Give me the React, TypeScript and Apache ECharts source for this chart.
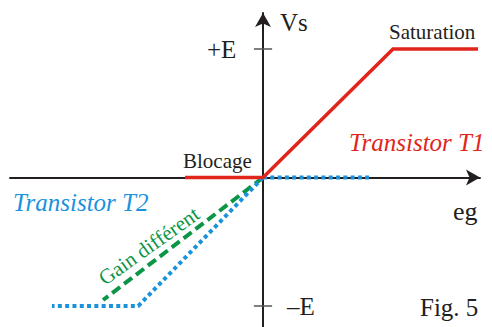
import React, { useEffect, useRef } from "react";
import * as echarts from "echarts";

// Transfer characteristic (eg in arbitrary units, Vs in units of E)
const t1Curve: number[][] = [[-0.6, 0], [0, 0], [1, 1], [1.654, 1]];
const t2Flat: number[][] = [[0, 0], [0.815, 0]];
const t2Curve: number[][] = [[0, 0], [-0.96, -1], [-1.623, -1]];
const gainCurve: number[][] = [[0, 0], [-1.23, -0.953]];
const tickLevels: number[] = [1, -1];
const tickHalf = 0.07;

const X_MIN = -1.946;
const X_MAX = 1.669;
const Y_MIN = -1.163;
const Y_MAX = 1.28;

const BLACK = "#231f20";
const RED = "#e1251b";
const BLUE = "#1a92dc";
const GREEN = "#0a9646";
const SERIF = "Liberation Serif";

export default function App() {
  const ref = useRef<HTMLDivElement>(null);
  useEffect(() => {
    if (!ref.current) return;
    const chart = echarts.init(ref.current, undefined, { renderer: "svg" });
    const txt = (
      text: string,
      x: number,
      y: number,
      size: number,
      color: string,
      align: string,
      italic = false,
      rotation = 0
    ) => ({
      type: "text",
      x,
      y,
      rotation,
      style: {
        text,
        fill: color,
        fontFamily: SERIF,
        fontSize: size,
        fontStyle: italic ? "italic" : "normal",
        textAlign: align,
        textVerticalAlign: "middle",
      },
    });
    chart.setOption({
      animation: false,
      textStyle: { fontFamily: SERIF },
      grid: { left: 10, top: 13, width: 470, height: 314, containLabel: false },
      xAxis: {
        type: "value",
        min: X_MIN,
        max: X_MAX,
        axisLine: {
          onZero: true,
          symbol: ["none", "arrow"],
          symbolSize: [12, 14],
          lineStyle: { color: BLACK, width: 2 },
        },
        axisTick: { show: false },
        axisLabel: { show: false },
        splitLine: { show: false },
      },
      yAxis: {
        type: "value",
        min: Y_MIN,
        max: Y_MAX,
        axisLine: {
          onZero: true,
          symbol: ["none", "arrow"],
          symbolSize: [12, 14],
          lineStyle: { color: BLACK, width: 2 },
        },
        axisTick: { show: false },
        axisLabel: { show: false },
        splitLine: { show: false },
      },
      series: [
        ...tickLevels.map((v) => ({
          type: "line",
          data: [[-tickHalf, v], [tickHalf, v]],
          symbol: "none",
          lineStyle: { color: "#555", width: 1.5 },
          z: 1,
        })),
        {
          type: "line",
          data: gainCurve,
          symbol: "none",
          lineStyle: { color: GREEN, width: 4, type: [10, 5] },
          z: 2,
        },
        {
          type: "line",
          data: t2Curve,
          symbol: "none",
          lineStyle: { color: BLUE, width: 4, type: [4, 3.3] },
          z: 3,
        },
        {
          type: "line",
          data: t2Flat,
          symbol: "none",
          lineStyle: { color: BLUE, width: 4, type: [4, 3.3] },
          z: 3,
        },
        {
          type: "line",
          data: t1Curve,
          symbol: "none",
          lineStyle: { color: RED, width: 3.5, cap: "butt", join: "miter" },
          z: 4,
        },
      ],
      graphic: [
        txt("Vs", 280, 22, 25, BLACK, "left"),
        txt("+E", 207, 49, 25, BLACK, "left"),
        txt("\u2013E", 287, 306, 25, BLACK, "left"),
        txt("Saturation", 389, 32, 21, BLACK, "left"),
        txt("Blocage", 183, 161, 21, BLACK, "left"),
        txt("Transistor T1", 349, 142, 25, RED, "left", true),
        txt("Transistor T2", 13, 202, 25, BLUE, "left", true),
        txt("eg", 453, 211, 26, BLACK, "left"),
        txt("Fig. 5", 420, 307, 25, BLACK, "left"),
        txt("Gain différent", 149, 246, 21, GREEN, "center", false, 0.62),
      ],
    });
    return () => chart.dispose();
  }, []);
  return (
    <div
      ref={ref}
      style={{ position: "fixed", left: 0, top: 0, width: 492, height: 327, background: "#fff" }}
    />
  );
}
